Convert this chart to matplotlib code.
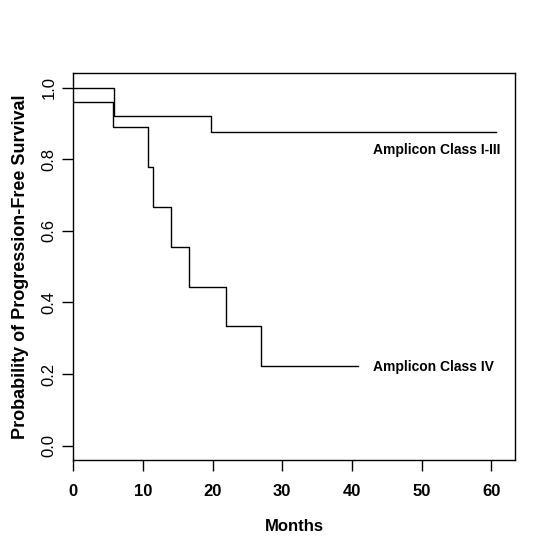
"""Kaplan-Meier style progression-free survival by amplicon class."""
import matplotlib
matplotlib.use("Agg")
import matplotlib.pyplot as plt

plt.rcParams["font.family"] = ["Liberation Sans", "DejaVu Sans"]

# step curves (months, survival probability)
months_1_3 = [0, 5.87, 19.7, 60.7]
surv_1_3 = [1.0, 0.921, 0.877, 0.877]

months_4 = [0, 5.73, 10.66, 11.46, 14.04, 16.6, 21.9, 26.9, 40.8]
surv_4 = [0.96, 0.889, 0.778, 0.667, 0.556, 0.444, 0.333, 0.222, 0.222]

labels = ["Amplicon Class I-III", "Amplicon Class IV"]
label_x = [52.1, 51.7]
label_y = [0.826, 0.219]

x_ticks = [0, 10, 20, 30, 40, 50, 60]
y_ticks = [0.0, 0.2, 0.4, 0.6, 0.8, 1.0]

fig = plt.figure(figsize=(5.54, 5.53), dpi=100)
ax = fig.add_axes([0.1323, 0.1682, 0.7973, 0.6992])

ax.step(months_1_3, surv_1_3, where="post", color="black", lw=1.0)
ax.step(months_4, surv_4, where="post", color="black", lw=1.0)

for t, x, y in zip(labels, label_x, label_y):
    ax.text(x, y, t, ha="center", va="center", fontsize=10, fontweight="bold")

ax.set_xlim(0, 63.4)
ax.set_ylim(-0.04, 1.04)
ax.set_xticks(x_ticks)
ax.set_xticklabels([str(v) for v in x_ticks], fontsize=12, fontweight="bold")
ax.set_yticks(y_ticks)
ax.set_yticklabels([f"{v:.1f}" for v in y_ticks], fontsize=12, rotation=90, va="center")
ax.tick_params(axis="both", length=8, width=1.0, color="black")
ax.tick_params(axis="x", pad=9)
ax.tick_params(axis="y", pad=4)

ax.set_xlabel("Months", fontsize=12, fontweight="bold", labelpad=15)
ax.set_ylabel("Probability of Progression-Free Survival", fontsize=13,
              fontweight="bold", labelpad=9)

for s in ax.spines.values():
    s.set_linewidth(1.0)

fig.savefig("out.png", dpi=100)
